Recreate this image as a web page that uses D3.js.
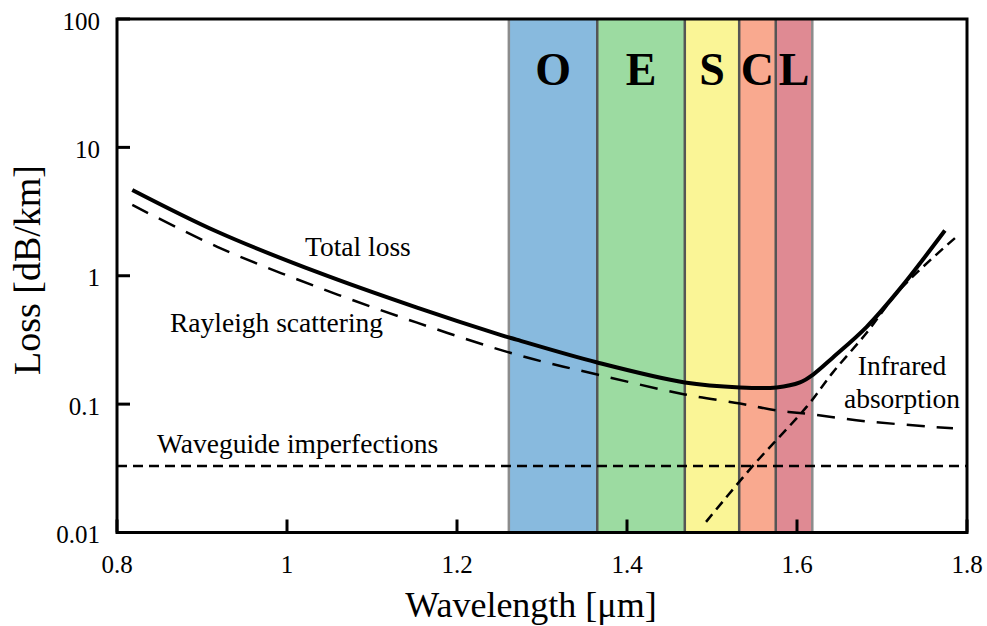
<!DOCTYPE html>
<html>
<head>
<meta charset="utf-8">
<script src="https://cdn.jsdelivr.net/npm/d3@7"></script>
<style>
  html, body { margin: 0; padding: 0; background: #fff; }
  svg { display: block; font-family: "Liberation Serif", "Times New Roman", serif; }
</style>
</head>
<body>
<script>
// Axis ticks
const wavelengthTicks = [0.8, 1, 1.2, 1.4, 1.6, 1.8];
const lossTicks = [100, 10, 1, 0.1, 0.01];

// Telecom bands (µm)
const bandNames = ["O", "E", "S", "C", "L"];
const bandStart = [1.261, 1.365, 1.468, 1.532, 1.575];
const bandEnd   = [1.365, 1.468, 1.532, 1.575, 1.618];

// Total loss [dB/km]
const totalWl   = [0.818, 0.918, 1.035, 1.153, 1.25, 1.27, 1.365, 1.468, 1.533, 1.576, 1.6035, 1.619, 1.642, 1.682, 1.721, 1.774];
const totalLoss = [4.66, 2.2, 1.07, 0.564, 0.348, 0.318, 0.211, 0.1475, 0.135, 0.135, 0.1475, 0.170, 0.23, 0.40, 0.79, 2.25];

// Rayleigh scattering [dB/km]
const rayleighWl   = [0.818, 0.918, 1.035, 1.153, 1.27, 1.365, 1.468, 1.533, 1.576, 1.619, 1.682, 1.7835];
const rayleighLoss = [3.56, 1.68, 0.82, 0.431, 0.243, 0.170, 0.119, 0.101, 0.0893, 0.083, 0.0734, 0.0648];

// Infrared absorption [dB/km]
const infraredWl   = [1.493, 1.548, 1.612, 1.642, 1.682, 1.721, 1.786];
const infraredLoss = [0.0121, 0.033, 0.0964, 0.176, 0.36, 0.78, 1.97];

// Waveguide imperfections [dB/km]
const waveguideWl   = [0.8, 1.8];
const waveguideLoss = [0.033, 0.033];

// Styles
const bandFill = ["#88bade", "#9cdba1", "#faf596", "#f9a98f", "#df8a93"];
const SERIF = "'Liberation Serif', 'Times New Roman', serif";

const W = 987, H = 626;
const plotL = 117, plotR = 967, plotT = 19, plotB = 532.5;

const svg = d3.select("body").append("svg").attr("width", W).attr("height", H)
  .attr("font-family", SERIF);

const x = d3.scaleLinear().domain([0.8, 1.8]).range([plotL, plotR]);
const y = d3.scaleLog().domain([0.01, 100]).range([plotB, plotT]);

// Bands
const bands = bandNames.map((n, i) => ({ name: n, a: bandStart[i], b: bandEnd[i], fill: bandFill[i] }));
svg.append("g").selectAll("rect").data(bands).join("rect")
  .attr("x", d => x(d.a)).attr("width", d => x(d.b) - x(d.a))
  .attr("y", plotT).attr("height", plotB - plotT)
  .attr("fill", d => d.fill);

// Band borders: inner shared edges darker
const edges = [bandStart[0]].concat(bandEnd);
svg.append("g").selectAll("line").data(edges).join("line")
  .attr("x1", d => x(d)).attr("x2", d => x(d))
  .attr("y1", plotT).attr("y2", plotB)
  .attr("stroke", (d, i) => (i === 0 || i === edges.length - 1) ? "#8c8c8c" : "#555")
  .attr("stroke-width", 2.5);

svg.append("g").selectAll("text").data(bands).join("text")
  .attr("x", d => x((d.a + d.b) / 2)).attr("y", 85)
  .attr("text-anchor", "middle")
  .attr("font-weight", "bold").attr("font-size", 46)
  .text(d => d.name);

// Curves
const line = d3.line().x(d => x(d[0])).y(d => y(d[1])).curve(d3.curveCatmullRom.alpha(0.5));
const zip = (a, b) => a.map((v, i) => [v, b[i]]);

svg.append("path").datum(zip(waveguideWl, waveguideLoss))
  .attr("d", line).attr("fill", "none").attr("stroke", "#000")
  .attr("stroke-width", 2.5).attr("stroke-dasharray", "10,6");

svg.append("path").datum(zip(infraredWl, infraredLoss))
  .attr("d", line).attr("fill", "none").attr("stroke", "#000")
  .attr("stroke-width", 2.5).attr("stroke-dasharray", "10,6");

svg.append("path").datum(zip(rayleighWl, rayleighLoss))
  .attr("d", line).attr("fill", "none").attr("stroke", "#000")
  .attr("stroke-width", 2.5).attr("stroke-dasharray", "18,12");

svg.append("path").datum(zip(totalWl, totalLoss))
  .attr("d", line).attr("fill", "none").attr("stroke", "#000")
  .attr("stroke-width", 4).attr("stroke-linejoin", "round");

// Curve labels
const labels = svg.append("g").attr("font-size", 27.5).attr("fill", "#000");
labels.append("text").attr("x", 305).attr("y", 256).text("Total loss");
labels.append("text").attr("x", 170).attr("y", 332).text("Rayleigh scattering");
labels.append("text").attr("x", 157).attr("y", 453).text("Waveguide imperfections");
labels.append("text").attr("x", 902).attr("y", 375).attr("text-anchor", "middle").text("Infrared");
labels.append("text").attr("x", 902).attr("y", 408).attr("text-anchor", "middle").text("absorption");

// Inward ticks and tick labels
const fmt = d3.format("~g");
const xt = svg.append("g");
xt.selectAll("line").data(wavelengthTicks).join("line")
  .attr("x1", d => x(d)).attr("x2", d => x(d))
  .attr("y1", plotB).attr("y2", plotB - 13)
  .attr("stroke", "#000").attr("stroke-width", 3);
xt.selectAll("text").data(wavelengthTicks).join("text")
  .attr("x", d => x(d)).attr("y", plotB + 40)
  .attr("text-anchor", "middle").attr("font-size", 25).attr("fill", "#000")
  .text(fmt);

const yt = svg.append("g");
yt.selectAll("line").data(lossTicks).join("line")
  .attr("x1", plotL).attr("x2", plotL + 13)
  .attr("y1", d => y(d)).attr("y2", d => y(d))
  .attr("stroke", "#000").attr("stroke-width", 3);
yt.selectAll("text").data(lossTicks).join("text")
  .attr("x", plotL - 17).attr("y", d => y(d) + 10.5)
  .attr("text-anchor", "end").attr("font-size", 25).attr("fill", "#000")
  .text(fmt);

// Frame
svg.append("rect").attr("x", plotL).attr("y", plotT)
  .attr("width", plotR - plotL).attr("height", plotB - plotT)
  .attr("fill", "none").attr("stroke", "#000").attr("stroke-width", 3);

// Axis titles
svg.append("text").attr("x", 531).attr("y", 617).attr("text-anchor", "middle")
  .attr("font-size", 36).text("Wavelength [μm]");
svg.append("text").attr("transform", "translate(40,270) rotate(-90)")
  .attr("text-anchor", "middle").attr("font-size", 38).text("Loss [dB/km]");
</script>
</body>
</html>
